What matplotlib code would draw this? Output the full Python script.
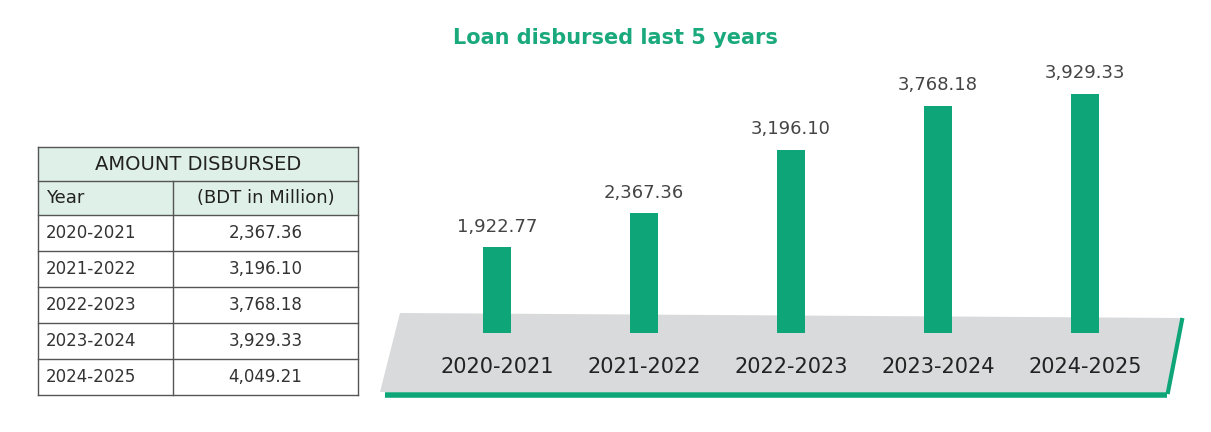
import matplotlib
matplotlib.use('agg')
import matplotlib.pyplot as plt
from matplotlib.patches import Polygon, Rectangle

years = ['2020-2021', '2021-2022', '2022-2023', '2023-2024', '2024-2025']
loan_values = [1922.77, 2367.36, 3196.10, 3768.18, 3929.33]
table_years = ['2020-2021', '2021-2022', '2022-2023', '2023-2024', '2024-2025']
table_amounts = ['2,367.36', '3,196.10', '3,768.18', '3,929.33', '4,049.21']

GREEN = '#0ea678'
W, H = 1211, 432

fig = plt.figure(figsize=(W / 100, H / 100), dpi=100)
bg = fig.add_axes([0, 0, 1, 1])
bg.set_xlim(0, W)
bg.set_ylim(H, 0)
bg.axis('off')

# base platform
bg.add_patch(Polygon([(400, 313), (1183, 318), (1168, 392), (380, 392)],
                     closed=True, facecolor='#d9dadb', edgecolor='none'))
bg.plot([385, 1167], [395, 395], color=GREEN, lw=4, solid_capstyle='butt')
bg.plot([1168, 1182], [392, 320], color=GREEN, lw=3)

bg.text(615, 38, 'Loan disbursed last 5 years', color='#1aa97c', fontsize=15,
        fontweight='bold', ha='center', va='center')

# table
x0, xm, x1 = 38, 173, 358
rows = [147, 181, 215, 251, 287, 323, 359, 395]
bg.add_patch(Rectangle((x0, rows[0]), x1 - x0, rows[2] - rows[0],
                       facecolor='#dff0e8', edgecolor='none'))
for y in rows:
    bg.plot([x0, x1], [y, y], color='#555555', lw=1)
bg.plot([x0, x0], [rows[0], rows[-1]], color='#555555', lw=1)
bg.plot([x1, x1], [rows[0], rows[-1]], color='#555555', lw=1)
bg.plot([xm, xm], [rows[1], rows[-1]], color='#555555', lw=1)
bg.text((x0 + x1) / 2, (rows[0] + rows[1]) / 2, 'AMOUNT DISBURSED', fontsize=14,
        ha='center', va='center', color='#222222')
bg.text(x0 + 8, (rows[1] + rows[2]) / 2, 'Year', fontsize=13, ha='left',
        va='center', color='#222222')
bg.text((xm + x1) / 2, (rows[1] + rows[2]) / 2, '(BDT in Million)', fontsize=13,
        ha='center', va='center', color='#222222')
for i, (yr, amt) in enumerate(zip(table_years, table_amounts)):
    yc = (rows[i + 2] + rows[i + 3]) / 2
    bg.text(x0 + 8, yc, yr, fontsize=12, ha='left', va='center', color='#333333')
    bg.text((xm + x1) / 2, yc, amt, fontsize=12, ha='center', va='center',
            color='#333333')

# bar chart axes, mapped onto the platform
px_per_val = 0.0766
base_val = 804
ax_left, ax_right = 423.5, 1158.5
ax_bottom, ax_top = 333, 20
ax = fig.add_axes([ax_left / W, 1 - ax_bottom / H, (ax_right - ax_left) / W,
                   (ax_bottom - ax_top) / H])
ax.patch.set_alpha(0)
ax.set_xlim(-0.5, 4.5)
ax.set_ylim(base_val, base_val + (ax_bottom - ax_top) / px_per_val)
ax.axis('off')
xs = range(len(years))
ax.bar(xs, [v - base_val for v in loan_values], bottom=base_val, width=0.19,
       color=GREEN)
for x, v in zip(xs, loan_values):
    ax.text(x, v + 150, f'{v:,.2f}', ha='center', va='bottom', fontsize=13,
            color='#444444')
for x, yr in zip(xs, years):
    ax.text(x, base_val - 34 / px_per_val, yr, ha='center', va='center',
            fontsize=15, color='#222222', clip_on=False)

fig.savefig('out.png', dpi=100)
